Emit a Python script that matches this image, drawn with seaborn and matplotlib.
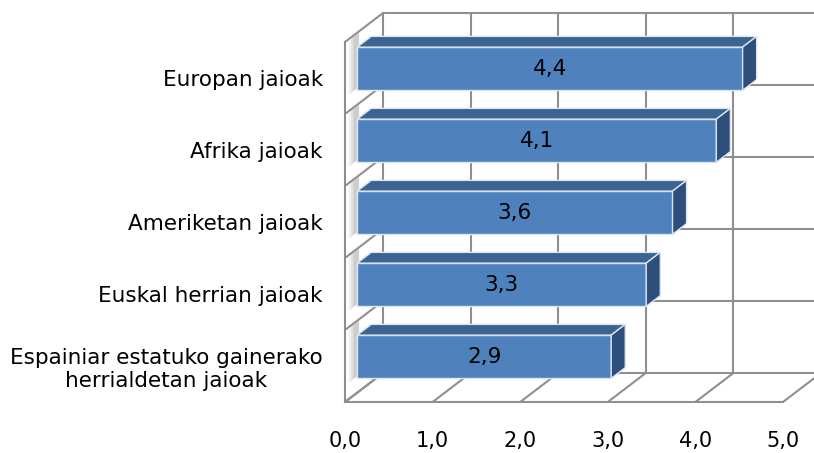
import numpy as np
import seaborn as sns
import matplotlib.pyplot as plt
from matplotlib.patches import Polygon

# data
categories = ["Europan jaioak", "Afrika jaioak", "Ameriketan jaioak",
              "Euskal herrian jaioak",
              "Espainiar estatuko gainerako\nherrialdetan jaioak"]
values = [4.4, 4.1, 3.6, 3.3, 2.9]
xticks = [0, 1, 2, 3, 4, 5]

sns.set_style("white")
plt.rcParams["font.family"] = ["DejaVu Sans"]
plt.rcParams["text.color"] = "black"
plt.rcParams["xtick.labelcolor"] = "black"
plt.rcParams["ytick.labelcolor"] = "black"

fig = plt.figure(figsize=(8.14, 4.53), dpi=100)
ax = fig.add_axes([345 / 814, 51 / 453, 438 / 814, 360 / 453])

front = "#4F81BD"
top_c = "#3C6491"
side_c = "#2E4F7C"
grid_c = "#8f8f8f"

sns.barplot(x=values, y=categories, orient="h", color=front, saturation=1,
            width=0.6, ax=ax, zorder=4)
ax.set_xlim(0, 5)
ax.set_ylim(4.5, -0.5)
n = len(categories)

# oblique depth offset in data units (one full depth)
ddx = 38 / (438 / 5)
ddy = -29 / 72
f0, f1 = 0.32, 0.69


def shift(x, y, d):
    return (x + d * ddx, y + d * ddy)


# back wall
for xv in xticks:
    ax.plot(*zip(shift(xv, 4.5, 1), shift(xv, -0.5, 1)), color=grid_c,
            lw=1.5, clip_on=False, zorder=1)
for yb in np.arange(-0.5, n, 1.0):
    ax.plot(*zip(shift(0, yb, 1), shift(6, yb, 1)), color=grid_c,
            lw=1.5, clip_on=False, zorder=1)
    # left wall
    ax.plot(*zip(shift(0, yb, 0), shift(0, yb, 1)), color=grid_c,
            lw=1.5, clip_on=False, zorder=1)
# floor
for xv in xticks:
    ax.plot(*zip(shift(xv, 4.5, 0), shift(xv, 4.5, 1)), color=grid_c,
            lw=1.5, clip_on=False, zorder=1)

# 3d bars
D = f1 - f0
for p in ax.patches:
    x, y, w, h = p.get_x(), p.get_y(), p.get_width(), p.get_height()
    x, y = shift(x, y, f0)
    p.set_x(x)
    p.set_y(y)
    p.set_edgecolor("#dbe5f1")
    p.set_linewidth(1)
    p.set_clip_on(False)
    # shadow on the left wall
    for k, a in enumerate([0.08, 0.10, 0.14]):
        d0 = f0 - 0.22 + k * 0.06
        sh = [shift(0, y - 0.05, d0), shift(0, y - 0.05, f0 + 0.05),
              shift(0, y + h + 0.1, f0 + 0.05), shift(0, y + h + 0.1, d0)]
        ax.add_patch(Polygon(sh, closed=True, facecolor="#555555", alpha=a,
                             lw=0, clip_on=False, zorder=2))
    top = [(x, y), (x + w, y), (x + w + D * ddx, y + D * ddy),
           (x + D * ddx, y + D * ddy)]
    side = [(x + w, y), (x + w, y + h), (x + w + D * ddx, y + h + D * ddy),
            (x + w + D * ddx, y + D * ddy)]
    ax.add_patch(Polygon(top, closed=True, facecolor=top_c,
                         edgecolor="#dbe5f1", lw=1, clip_on=False, zorder=4))
    ax.add_patch(Polygon(side, closed=True, facecolor=side_c,
                         edgecolor="#dbe5f1", lw=1, clip_on=False, zorder=4))

ax.bar_label(ax.containers[0], label_type="center", fontsize=15.5,
             color="black", fmt=lambda v: f"{v:.1f}".replace(".", ","),
             zorder=6)

# axes
for s in ["top", "right"]:
    ax.spines[s].set_visible(False)
for s in ["left", "bottom"]:
    ax.spines[s].set_color(grid_c)
    ax.spines[s].set_linewidth(1.5)
ax.set_xticks(xticks)
ax.set_xticklabels([f"{v:.1f}".replace(".", ",") for v in xticks], fontsize=15)
ax.set_yticks(range(n))
ax.set_yticklabels(categories, fontsize=15.5, multialignment="center")
ax.set_yticks(np.arange(-0.5, n, 1.0), minor=True)
ax.tick_params(axis="x", length=5, width=1.5, color=grid_c, pad=16)
ax.tick_params(axis="y", which="major", length=0, pad=16)
ax.tick_params(axis="y", which="minor", length=4, width=1.5, color=grid_c)
ax.set_xlabel("")
ax.set_ylabel("")
ax.patch.set_alpha(0)

fig.savefig("out.png", dpi=100)
